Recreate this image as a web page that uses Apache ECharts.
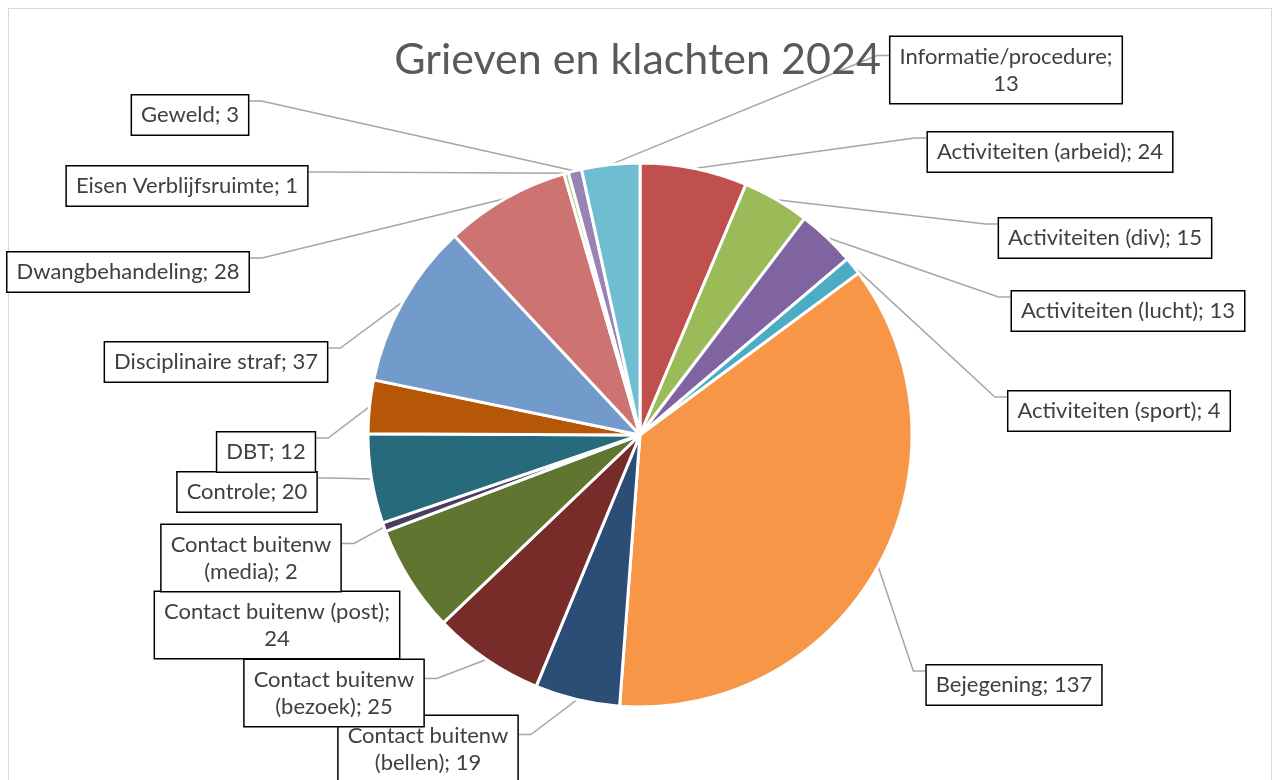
<!DOCTYPE html>
<html>
<head>
<meta charset="utf-8">
<title>Grieven en klachten 2024</title>
<script src="https://cdn.jsdelivr.net/npm/echarts@6/dist/echarts.min.js"></script>
<style>
    html, body { margin: 0; padding: 0; background: #fff; }
    #frame { position: absolute; left: 8px; top: 8px; width: 1262px; height: 800px; border: 1.5px solid #d9d9d9; }
    #chart { position: absolute; left: 0; top: 0; width: 1275px; height: 780px; }
</style>
</head>
<body>
<div id="frame"></div>
<div id="chart"></div>
<script>
// gegevens, met de klok mee vanaf 12 uur
const categories = [
    'Activiteiten (arbeid)', 'Activiteiten (div)', 'Activiteiten (lucht)', 'Activiteiten (sport)',
    'Bejegening', 'Contact buitenw (bellen)', 'Contact buitenw (bezoek)', 'Contact buitenw (post)',
    'Contact buitenw (media)', 'Controle', 'DBT', 'Disciplinaire straf',
    'Dwangbehandeling', 'Eisen Verblijfsruimte', 'Geweld', 'Informatie/procedure'
];
const values = [24, 15, 13, 4, 137, 19, 25, 24, 2, 20, 12, 37, 28, 1, 3, 13];

// Excel-kleuren per segment
const colors = [
    '#C0504D', '#9BBB59', '#8064A2', '#4BACC6', '#F79646', '#2C4D75', '#772C2A', '#5F7530',
    '#4D3B62', '#276A7C', '#B65708', '#729ACA', '#CD7371', '#AFC97A', '#9983B5', '#6FBDD1'
];

// plaats van de labels (midden van het kader)
const labelCenters = [
    [1050, 152], [1105, 238], [1128, 311], [1119, 411], [1014, 685], [428, 749], [334, 693], [277, 625],
    [251, 558], [247, 492], [266, 452], [216, 362], [128, 272], [187, 186], [190, 115], [1006, 70]
];
// labels die over twee regels lopen
const wrapped = ['Contact buitenw (bellen)', 'Contact buitenw (bezoek)', 'Contact buitenw (post)',
    'Contact buitenw (media)', 'Informatie/procedure'];

const FONT = 'Lato, "Open Sans", sans-serif';
const CX = 640, CY = 435;

function wrapText(text, maxChars) {
    const words = text.split(' ');
    let first = '';
    let i = 0;
    while (i < words.length && (first ? first + ' ' + words[i] : words[i]).length <= maxChars) {
        first = first ? first + ' ' + words[i] : words[i];
        i++;
    }
    return first + '\n' + words.slice(i).join(' ');
}

const chart = echarts.init(document.getElementById('chart'));
chart.setOption({
    animation: false,
    title: {
        text: 'Grieven en klachten 2024',
        left: 'center',
        top: 34,
        textStyle: { fontFamily: FONT, fontSize: 43, fontWeight: 'normal', color: '#595959' }
    },
    series: [{
        type: 'pie',
        center: [CX, CY],
        radius: 272,
        startAngle: 90,
        clockwise: true,
        avoidLabelOverlap: false,
        data: categories.map((name, i) => ({ name: name, value: values[i], itemStyle: { color: colors[i] } })),
        itemStyle: { borderColor: '#fff', borderWidth: 3 },
        label: {
            show: true,
            position: 'outside',
            formatter: p => {
                const t = p.name + '; ' + p.value;
                return wrapped.indexOf(p.name) >= 0 ? wrapText(t, 23) : t;
            },
            fontFamily: FONT,
            fontSize: 22,
            lineHeight: 27,
            color: '#404040',
            backgroundColor: '#fff',
            borderColor: '#000',
            borderWidth: 1.5,
            padding: [6, 9],
            align: 'center'
        },
        labelLine: {
            show: true,
            length: 10,
            length2: 10,
            lineStyle: { color: '#a6a6a6', width: 1.5 }
        },
        labelLayout: function (params) {
            const i = params.dataIndex;
            const c = labelCenters[i];
            const w = params.labelRect.width;
            const h = params.labelRect.height;
            const right = c[0] > CX;
            const ax = right ? c[0] - w / 2 : c[0] + w / 2;
            const ay = c[1] - h / 2 + (h > 50 ? 20 : 7);
            const p0 = params.labelLinePoints ? params.labelLinePoints[0] : [CX, CY];
            // label te dicht bij het segment: geen verbindingslijn (zoals in Excel)
            const near = Math.abs(p0[0] - ax) < 25;
            return {
                x: c[0],
                y: c[1],
                align: 'center',
                verticalAlign: 'middle',
                labelLinePoints: near ? [p0, p0, p0] : [p0, [ax + (right ? -12 : 12), ay], [ax, ay]]
            };
        }
    }]
});
</script>
</body>
</html>
